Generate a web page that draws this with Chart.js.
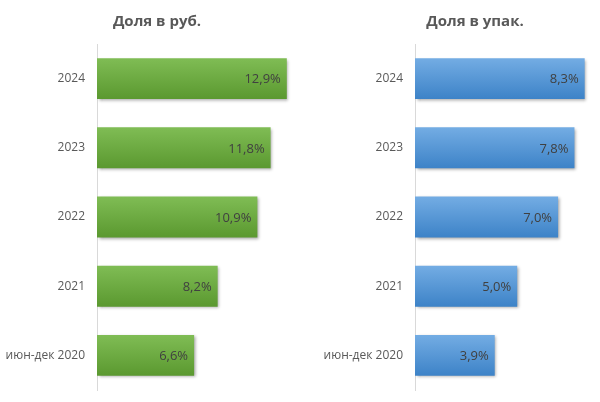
<!DOCTYPE html>
<html><head><meta charset="utf-8">
<script src="https://cdn.jsdelivr.net/npm/chart.js@4"></script>
<style>
html,body{margin:0;padding:0;background:#fff;overflow:hidden;}
#wrap{position:relative;width:600px;height:402px;overflow:hidden;}
canvas{position:absolute;top:0;display:block;}
</style></head><body>
<div id="wrap">
<canvas id="c1" width="310" height="402" style="left:0;width:310px;height:402px"></canvas>
<canvas id="c2" width="300" height="402" style="left:300px;width:300px;height:402px"></canvas>
</div>
<script>
const categories = ["2024","2023","2022","2021","июн-дек 2020"];
const rubShare = [12.9, 11.8, 10.9, 8.2, 6.6];
const packShare = [8.3, 7.8, 7.0, 5.0, 3.9];
const titles = ["Доля в руб.", "Доля в упак."];

const FONT = "'Open Sans', 'Liberation Sans', sans-serif";

function grad(top, bottom){
  return function(ctx){
    const chart = ctx.chart;
    if(!chart.chartArea || !chart.scales.y) return bottom;
    const y = chart.scales.y.getPixelForValue(ctx.dataIndex);
    if(!isFinite(y)) return bottom;
    const g = chart.ctx.createLinearGradient(0, y - 21, 0, y + 21);
    g.addColorStop(0, top);
    g.addColorStop(1, bottom);
    return g;
  };
}

const shadowPlugin = {
  id:'shadow',
  beforeDatasetDraw(chart){
    const c = chart.ctx; c.save();
    c.shadowColor='rgba(0,0,0,0.35)'; c.shadowBlur=3; c.shadowOffsetX=1.5; c.shadowOffsetY=1.5;
  },
  afterDatasetDraw(chart){ chart.ctx.restore(); }
};

const labelPlugin = {
  id:'vlabels',
  afterDatasetsDraw(chart){
    const c = chart.ctx;
    const meta = chart.getDatasetMeta(0);
    const data = chart.data.datasets[0].data;
    c.save();
    c.font = "13px " + FONT;
    c.fillStyle = '#404040';
    c.textAlign = 'right';
    c.textBaseline = 'middle';
    meta.data.forEach((bar,i)=>{
      const txt = data[i].toFixed(1).replace('.',',') + '%';
      c.fillText(txt, bar.x - 6, bar.y + 1);
    });
    c.restore();
  }
};

const titlePlugin = {
  id:'ttl',
  afterDraw(chart){
    const c = chart.ctx;
    c.save();
    c.font = "bold 15px " + FONT;
    c.fillStyle = '#595959';
    c.textAlign = 'center';
    c.textBaseline = 'middle';
    const o = chart.options.plugins.ttl;
    c.fillText(o.text, o.cx, 22);
    c.restore();
  }
};

function make(id, values, title, maxV, yWidth, padRight, cx, top, bottom){
  return new Chart(document.getElementById(id), {
    type:'bar',
    data:{labels:categories, datasets:[{data:values, backgroundColor:grad(top,bottom), borderWidth:0, barPercentage:0.72, categoryPercentage:0.82}]},
    plugins:[shadowPlugin,labelPlugin,titlePlugin],
    options:{
      indexAxis:'y',
      responsive:false, animation:false, devicePixelRatio:1,
      layout:{autoPadding:false, padding:{top:44,bottom:12,left:0,right:padRight}},
      plugins:{legend:{display:false}, tooltip:{enabled:false}, ttl:{text:title, cx:cx}},
      scales:{
        x:{display:false, min:0, max:maxV},
        y:{
          grid:{display:false, drawTicks:false},
          border:{display:true, color:'#d9d9d9', width:1},
          ticks:{color:'#595959', font:{family:FONT, size:12}, padding:12},
          afterFit(s){ s.width = yWidth; s.paddingTop = 0; s.paddingBottom = 0; }
        }
      }
    }
  });
}

make('c1', rubShare, titles[0], 14, 97, 7, 157, '#80bd55', '#5a982f');
make('c2', packShare, titles[1], 9, 115, 1, 175, '#74ade4', '#3c82c7');
</script>
</body></html>
